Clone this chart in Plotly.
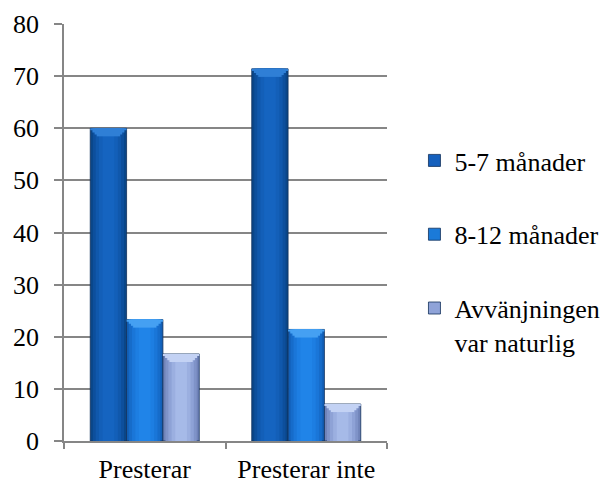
import plotly.graph_objects as go

# Data
categories = ["Presterar", "Presterar inte"]
series_names = ["5-7 månader", "8-12 månader", "Avvänjningen<br>var naturlig"]
values_57 = [60.0, 71.4]
values_812 = [23.3, 21.4]
values_natural = [16.7, 7.1]
y_ticks = [0, 10, 20, 30, 40, 50, 60, 70, 80]

series_values = [values_57, values_812, values_natural]

# Shading steps per series: outer edge colour -> centre colour
shades = [
    ["#0a4688", "#0d4f9c", "#1058ac", "#135fb8", "#1564c0"],
    ["#1260b8", "#166cca", "#1a76d8", "#1d7ee2", "#2084e8"],
    ["#7083b8", "#7f93c8", "#8ea2d6", "#9bafe0", "#a6bae8"],
]
bevel_colors = ["#2f7fd6", "#45a0f2", "#c3d2f4"]
legend_colors = ["#1560bd", "#1b7ad8", "#8fa3d8"]

BAR_W = 0.225
offsets = [-0.3375, -0.1125, 0.1125]
fractions = [1.0, 0.86, 0.7, 0.52, 0.32]
bevel_depths = [0.4, 0.8, 1.2, 1.55]
bevel_fracs = [1.0, 0.88, 0.76, 0.64]

serif = "Liberation Serif"

fig = go.Figure()
for i, (name, vals) in enumerate(zip(series_names, series_values)):
    # body with horizontal shading
    for k, (frac, col) in enumerate(zip(fractions, shades[i])):
        w = BAR_W * frac
        off = offsets[i] + (BAR_W - w) / 2
        fig.add_trace(go.Bar(
            x=categories, y=vals,
            width=w, offset=off,
            marker=dict(color=col,
                        line=dict(width=0.8 if k == 0 else 0, color="#12305a")),
            showlegend=False, hoverinfo="skip",
        ))
    # chamfered highlight at the top of each bar
    for d, frac in zip(bevel_depths, bevel_fracs):
        w = BAR_W * frac
        off = offsets[i] + (BAR_W - w) / 2
        fig.add_trace(go.Bar(
            x=categories, y=[d] * len(vals), base=[v - d for v in vals],
            width=w, offset=off,
            marker=dict(color=bevel_colors[i], line=dict(width=0)),
            showlegend=False, hoverinfo="skip",
        ))
    # legend entry
    fig.add_trace(go.Bar(
        x=[None], y=[None], name=name,
        marker=dict(color=legend_colors[i], line=dict(width=0.8, color="#12305a")),
        legendgroup=f"g{i}", showlegend=True,
    ))

fig.update_layout(
    width=601, height=484,
    margin=dict(l=64, r=214, t=24, b=43, autoexpand=False),
    paper_bgcolor="white", plot_bgcolor="white",
    barmode="overlay",
    font=dict(family=serif, size=26, color="black"),
    showlegend=True,
    legend=dict(
        x=1.085, y=0.729, xanchor="left", yanchor="top",
        font=dict(family=serif, size=26, color="black"),
        traceorder="grouped", tracegroupgap=37, valign="top",
        itemwidth=30, bgcolor="rgba(0,0,0,0)",
    ),
    xaxis=dict(
        type="category", showgrid=False, automargin=False,
        showline=True, linecolor="#868686", linewidth=1.5,
        ticks="outside", tickson="boundaries", ticklen=6, tickcolor="#868686",
        tickwidth=1.5, ticklabelstandoff=4,
        tickfont=dict(family=serif, size=26, color="black"),
        range=[-0.5, 1.5],
    ),
    yaxis=dict(
        range=[0, 80], tickvals=y_ticks, automargin=False,
        showgrid=True, gridcolor="#868686", gridwidth=1.5,
        showline=True, linecolor="#868686", linewidth=1.5,
        ticks="outside", ticklen=8, tickcolor="#868686", tickwidth=1.5,
        ticklabelstandoff=10, zeroline=False,
        tickfont=dict(family=serif, size=26, color="black"),
    ),
)

fig.write_html("out.html")
